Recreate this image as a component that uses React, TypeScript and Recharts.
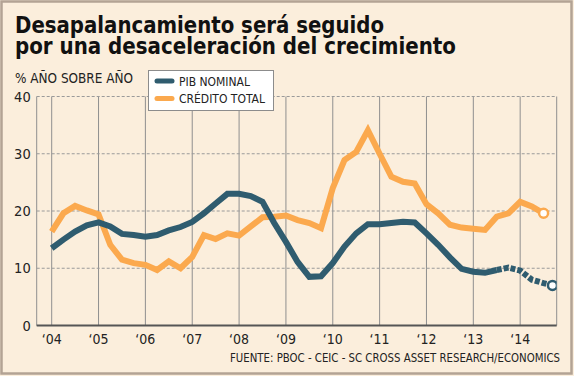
import { LineChart, Line, XAxis, YAxis, CartesianGrid, Legend } from "recharts";

// quarterly periods, 2004 T1 .. 2014 T3, plus the last projection point
const periods = [
  2004, 2004.25, 2004.5, 2004.75, 2005, 2005.25, 2005.5, 2005.75,
  2006, 2006.25, 2006.5, 2006.75, 2007, 2007.25, 2007.5, 2007.75,
  2008, 2008.25, 2008.5, 2008.75, 2009, 2009.25, 2009.5, 2009.75,
  2010, 2010.25, 2010.5, 2010.75, 2011, 2011.25, 2011.5, 2011.75,
  2012, 2012.25, 2012.5, 2012.75, 2013, 2013.25, 2013.5, 2013.75,
  2014, 2014.25, 2014.5, 2014.69,
];

const creditoTotal = [
  16.4, 19.6, 20.9, 20.1, 19.4, 14.1, 11.5, 10.9,
  10.6, 9.7, 11.2, 10.0, 12.0, 15.8, 15.1, 16.1,
  15.7, 17.3, 18.9, 19.0, 19.2, 18.4, 17.9, 17.0,
  24.0, 28.9, 30.3, 34.1, 30.0, 26.0, 25.1, 24.8,
  21.2, 19.6, 17.6, 17.1, 16.9, 16.7, 19.0, 19.6,
  21.6, 20.8, 19.6,
];

const pibNominal = [
  13.5, 15.0, 16.4, 17.5, 18.0, 17.3, 16.0, 15.8,
  15.5, 15.8, 16.6, 17.2, 18.1, 19.6, 21.3, 23.0,
  23.0, 22.6, 21.6, 17.9, 14.6, 11.1, 8.5, 8.6,
  10.9, 13.8, 16.1, 17.7, 17.7, 17.9, 18.1, 18.0,
  16.1, 14.1, 11.9, 9.9, 9.4, 9.2, 9.7,
];

// projection starts where the solid PIB line ends
const projStart = 38;
const pibProyeccion = [9.7, 10.1, 9.6, 8.0, 7.4, 7.0];

const yearTicks = [2004, 2005, 2006, 2007, 2008, 2009, 2010, 2011, 2012, 2013, 2014];
const yearLabels = ["‘04", "‘05", "‘06", "‘07", "‘08", "‘09", "‘10", "‘11", "‘12", "‘13", "‘14"];
const yTicks = [0, 10, 20, 30, 40];

const DARK = "#2F5C6F";
const ORANGE = "#FBA94E";
const CREAM = "#FBEEDC";
const FONT = "'DejaVu Sans Condensed', 'DejaVu Sans', sans-serif";

const data = periods.map((x, i) => ({
  x,
  credito: i < creditoTotal.length ? creditoTotal[i] : null,
  pib: i < pibNominal.length ? pibNominal[i] : null,
  proy: i >= projStart ? pibProyeccion[i - projStart] : null,
}));

const endDot = (color: string, lastIndex: number) => (props: any) => {
  const { cx, cy, index } = props;
  if (index !== lastIndex || cx == null || cy == null) return <g key={`d-${index}`} />;
  return (
    <circle key={`d-${index}`} cx={cx} cy={cy} r={4.5} fill="#fff" stroke={color} strokeWidth={2.5} />
  );
};

const legendItems = [
  { key: "pib", label: "PIB NOMINAL", color: DARK, len: 71 },
  { key: "credito", label: "CRÉDITO TOTAL", color: ORANGE, len: 86 },
];

function LegendBox() {
  return (
    <svg width={126} height={41}>
      <rect x={0.5} y={0.5} width={125} height={40} fill="#fff" stroke="#8C8C8C" />
      {legendItems.map((it, i) => (
        <g key={it.key}>
          <line x1={9} x2={24} y1={11 + i * 17.5} y2={11 + i * 17.5} stroke={it.color} strokeWidth={5} strokeLinecap="round" />
          <text x={31} y={16 + i * 17} fontSize={13} fontFamily={FONT} fill="#222" textLength={it.len} lengthAdjust="spacingAndGlyphs">
            {it.label}
          </text>
        </g>
      ))}
    </svg>
  );
}

export default function App() {
  return (
    <div style={{ position: "absolute", left: 0, top: 0, width: 574, height: 376, background: CREAM }}>
      <svg width={574} height={376} style={{ position: "absolute", left: 0, top: 0 }}>
        <rect x={1.5} y={1.5} width={570} height={372} fill={CREAM} stroke="#B3A394" strokeWidth={2.5} />
        <text fontSize={23} fontWeight="bold" fontFamily={FONT} fill="#111">
          <tspan x={15} y={33} textLength={369} lengthAdjust="spacingAndGlyphs">
            Desapalancamiento será seguido
          </tspan>
          <tspan x={15} y={54} textLength={441} lengthAdjust="spacingAndGlyphs">
            por una desaceleración del crecimiento
          </tspan>
        </text>
        <text x={15} y={82.7} fontSize={14.5} fontFamily={FONT} fill="#222" textLength={118} lengthAdjust="spacingAndGlyphs">
          % AÑO SOBRE AÑO
        </text>
        <text x={230} y={361.5} fontSize={11.5} fontFamily={FONT} fill="#222" textLength={330} lengthAdjust="spacingAndGlyphs">
          FUENTE: PBOC - CEIC - SC CROSS ASSET RESEARCH/ECONOMICS
        </text>
      </svg>
      <div style={{ position: "absolute", left: 0, top: 0 }}>
        <LineChart width={574} height={376} data={data} margin={{ top: 96.5, right: 17.3, left: 0, bottom: 0 }}>
          <CartesianGrid horizontal={false} vertical={true} stroke="#8F8F8F" strokeWidth={1} />
          <CartesianGrid horizontal={true} vertical={false} stroke="#9A9A9A" strokeDasharray="3 2" strokeWidth={1} />
          <XAxis
            dataKey="x"
            type="number"
            domain={[2003.68, 2014.78]}
            ticks={yearTicks}
            allowDataOverflow
            tickFormatter={(v: number) => yearLabels[yearTicks.indexOf(v)] ?? ""}
            axisLine={{ stroke: "#555", strokeWidth: 2 }}
            tickLine={false}
            tickSize={0}
            tickMargin={9}
            height={50.5}
            tick={{ fontSize: 14, fontFamily: FONT, fill: "#222" }}
          />
          <YAxis
            domain={[0, 40]}
            ticks={yTicks}
            axisLine={false}
            tickLine={false}
            tickSize={0}
            tickMargin={6}
            width={36.7}
            tick={{ fontSize: 14.5, fontFamily: FONT, fill: "#222" }}
          />
          <Legend
            layout="vertical"
            align="center"
            verticalAlign="middle"
            wrapperStyle={{ position: "absolute", left: 147.5, top: 70, width: 126, height: 41 }}
            content={() => <LegendBox />}
          />
          <Line
            dataKey="credito"
            stroke={ORANGE}
            strokeWidth={6}
            dot={endDot(ORANGE, creditoTotal.length - 1)}
            activeDot={false}
            isAnimationActive={false}
          />
          <Line
            dataKey="pib"
            stroke={DARK}
            strokeWidth={6}
            dot={false}
            activeDot={false}
            isAnimationActive={false}
          />
          <Line
            dataKey="proy"
            stroke={DARK}
            strokeWidth={6}
            strokeDasharray="5 2"
            legendType="none"
            dot={endDot(DARK, periods.length - 1)}
            activeDot={false}
            isAnimationActive={false}
          />
        </LineChart>
      </div>
    </div>
  );
}
